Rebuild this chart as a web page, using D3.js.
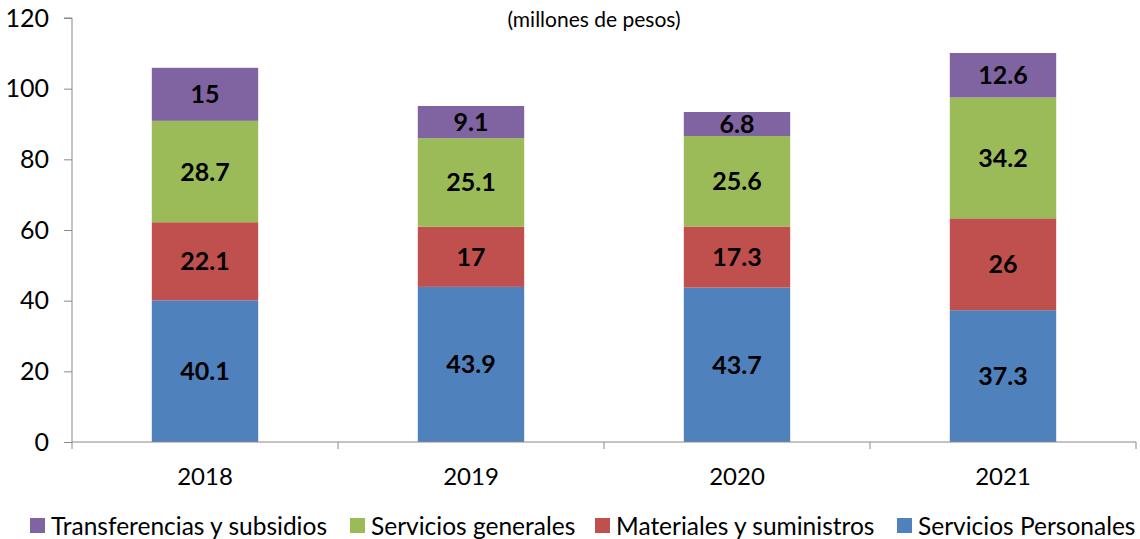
<!DOCTYPE html>
<html>
<head>
<meta charset="utf-8">
<script src="https://cdn.jsdelivr.net/npm/d3@7"></script>
<style>
  body { margin: 0; background: #fff; }
  text { font-family: Lato, "Open Sans", sans-serif; }
</style>
</head>
<body>
<div class="chart"></div>
<script>
// datos por categoria
const years = ['2018', '2019', '2020', '2021']
const serviciosPersonales = [40.1, 43.9, 43.7, 37.3]
const materiales = [22.1, 17, 17.3, 26]
const serviciosGenerales = [28.7, 25.1, 25.6, 34.2]
const transferencias = [15, 9.1, 6.8, 12.6]
const yTicks = [0, 20, 40, 60, 80, 100, 120]

const seriesNames = ['Servicios Personales', 'Materiales y suministros', 'Servicios generales', 'Transferencias y subsidios']
const colors = ['#4F81BD', '#C0504D', '#9BBB59', '#8064A2']
const legendOrder = [3, 2, 1, 0]

const fullWidth = 1140
const fullHeight = 539
const margin = {top: 18, right: 4, bottom: 97, left: 72}
const width = fullWidth - margin.left - margin.right
const height = fullHeight - margin.top - margin.bottom

const rows = years.map((y, i) => ({
  year: y,
  s0: serviciosPersonales[i],
  s1: materiales[i],
  s2: serviciosGenerales[i],
  s3: transferencias[i]
}))

const stacked = d3.stack().keys(['s0', 's1', 's2', 's3'])(rows)

const svg = d3.select('.chart')
  .append('svg')
    .attr('width', fullWidth)
    .attr('height', fullHeight)

const g = svg.append('g')
  .attr('transform', `translate(${margin.left}, ${margin.top})`)

const xScale = d3.scaleBand()
  .domain(years)
  .range([0, width])
  .paddingInner(0.6)
  .paddingOuter(0.3)

const yScale = d3.scaleLinear()
  .domain([0, 120])
  .range([height, 0])

// barras
const layers = g.selectAll('.layer')
  .data(stacked)
  .enter()
  .append('g')
    .attr('class', 'layer')
    .style('fill', (d, i) => colors[i])

layers.selectAll('rect')
  .data(d => d)
  .enter()
  .append('rect')
    .attr('x', d => xScale(d.data.year))
    .attr('width', xScale.bandwidth())
    .attr('y', d => yScale(d[1]))
    .attr('height', d => yScale(d[0]) - yScale(d[1]))

layers.selectAll('.lbl')
  .data(d => d.map(v => ({v, key: d.key})))
  .enter()
  .append('text')
    .attr('class', 'lbl')
    .attr('x', d => xScale(d.v.data.year) + xScale.bandwidth() / 2)
    .attr('y', d => yScale((d.v[0] + d.v[1]) / 2))
    .attr('dy', '0.36em')
    .attr('text-anchor', 'middle')
    .style('fill', '#000')
    .style('font-weight', 'bold')
    .style('font-size', '25px')
    .text(d => d.v.data[d.key])

// eje y
const yAxis = g.append('g')
  .call(d3.axisLeft(yScale).tickValues(yTicks).tickSize(8).tickPadding(15))
yAxis.selectAll('text').style('font-size', '25px').style('fill', '#000')
yAxis.selectAll('line, path').style('stroke', '#888')
yAxis.select('.domain').attr('d', `M-8,${yScale(120)}H0V${height}`)

// eje x
const xAxis = g.append('g')
  .attr('transform', `translate(0, ${height})`)
xAxis.append('line')
  .attr('x1', 0).attr('x2', width)
  .style('stroke', '#888')
xAxis.selectAll('.tk')
  .data(d3.range(years.length + 1))
  .enter()
  .append('line')
    .attr('x1', i => i * width / years.length)
    .attr('x2', i => i * width / years.length)
    .attr('y2', 7)
    .style('stroke', '#888')
xAxis.selectAll('.xl')
  .data(years)
  .enter()
  .append('text')
    .attr('x', d => xScale(d) + xScale.bandwidth() / 2)
    .attr('y', 43)
    .attr('text-anchor', 'middle')
    .style('font-size', '24px')
    .text(d => d)

// titulo
svg.append('text')
  .attr('x', 594)
  .attr('y', 27)
  .attr('text-anchor', 'middle')
  .style('font-size', '21px')
  .text('(millones de pesos)')

// leyenda
const legendX = [30, 350, 595, 897]
const legend = svg.append('g')
  .attr('transform', 'translate(0, 526)')
legendOrder.forEach((s, i) => {
  legend.append('rect')
    .attr('x', legendX[i])
    .attr('y', -8)
    .attr('width', 15)
    .attr('height', 15)
    .style('fill', colors[s])
  legend.append('text')
    .attr('x', legendX[i] + 21)
    .attr('y', 0)
    .attr('dy', '0.36em')
    .style('font-size', '24.5px')
    .text(seriesNames[s])
})
</script>
</body>
</html>
